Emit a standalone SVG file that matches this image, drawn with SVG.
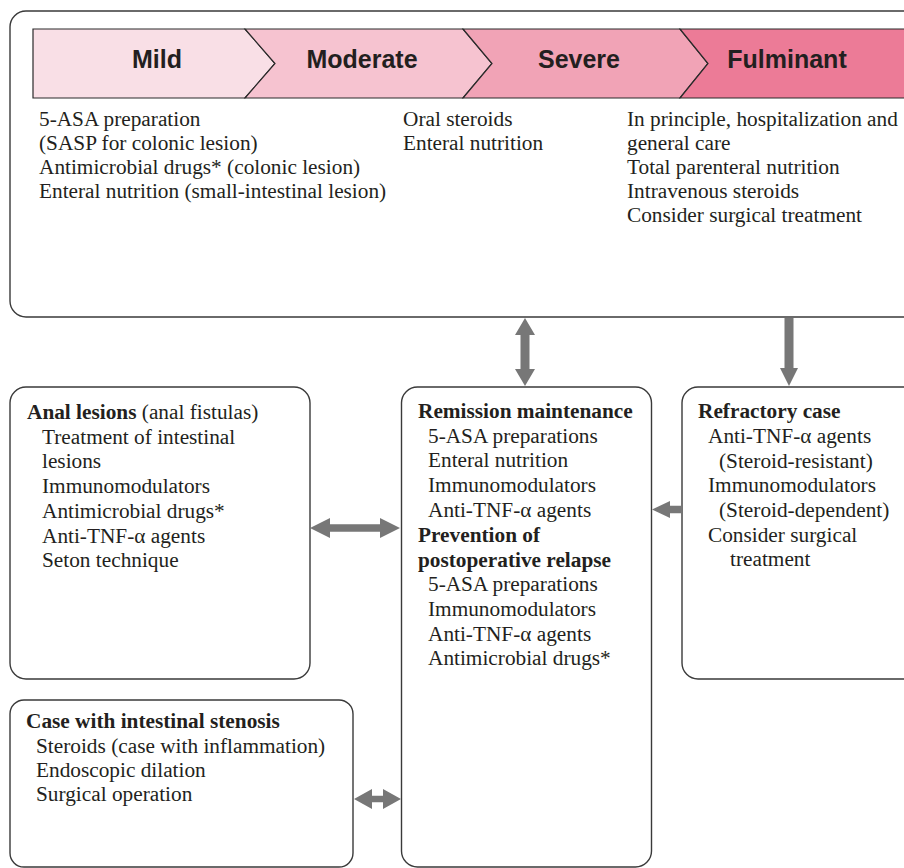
<svg xmlns="http://www.w3.org/2000/svg" width="904" height="868" viewBox="0 0 904 868">
<style>
.box{fill:#fff;stroke:#3a3a3a;stroke-width:1.4}
.t{font-family:"Liberation Serif","Times New Roman",serif;font-size:21.3px;fill:#231f20}
.b{font-weight:bold}
.h{font-family:"Liberation Sans",Arial,sans-serif;font-size:25px;font-weight:bold;fill:#231f20;text-anchor:middle}
.seg{stroke:#2a2a2a;stroke-width:1.2}
.arr{fill:#777777}
</style>
<rect width="904" height="868" fill="#ffffff"/>
<g id="severity">
<rect class="box" x="10" y="11" width="920" height="306" rx="16"/>
<polygon class="seg" fill="#f9dfe6" points="33,29 245,29 275,63.5 245,98 33,98"/>
<polygon class="seg" fill="#f6c3d0" points="245,29 463,29 492,63.5 463,98 245,98 275,63.5"/>
<polygon class="seg" fill="#f1a3b6" points="463,29 680,29 708,63.5 680,98 463,98 492,63.5"/>
<polygon class="seg" fill="#ec7b97" points="680,29 915,29 915,98 680,98 708,63.5"/>
<text class="h" x="157" y="68">Mild</text>
<text class="h" x="362" y="68">Moderate</text>
<text class="h" x="579" y="68">Severe</text>
<text class="h" x="787" y="68">Fulminant</text>
<text class="t" x="39" y="126">5-ASA preparation</text>
<text class="t" x="39" y="150">(SASP for colonic lesion)</text>
<text class="t" x="39" y="174">Antimicrobial drugs* (colonic lesion)</text>
<text class="t" x="39" y="198">Enteral nutrition (small-intestinal lesion)</text>
<text class="t" x="403" y="126">Oral steroids</text>
<text class="t" x="403" y="150">Enteral nutrition</text>
<text class="t" x="627" y="126">In principle, hospitalization and</text>
<text class="t" x="627" y="150">general care</text>
<text class="t" x="627" y="174">Total parenteral nutrition</text>
<text class="t" x="627" y="198">Intravenous steroids</text>
<text class="t" x="627" y="222">Consider surgical treatment</text>
</g>
<g id="anal">
<rect class="box" x="10" y="387" width="300" height="292" rx="16"/>
<text class="t" x="27" y="419"><tspan class="b">Anal lesions</tspan> (anal fistulas)</text>
<text class="t" x="42" y="443.7">Treatment of intestinal</text>
<text class="t" x="42" y="468.4">lesions</text>
<text class="t" x="42" y="493">Immunomodulators</text>
<text class="t" x="42" y="517.8">Antimicrobial drugs*</text>
<text class="t" x="42" y="542.5">Anti-TNF-α agents</text>
<text class="t" x="42" y="567.2">Seton technique</text>
</g>
<g id="remission">
<rect class="box" x="401.5" y="387" width="250" height="480" rx="16"/>
<text class="t b" x="418" y="418">Remission maintenance</text>
<text class="t" x="428" y="442.7">5-ASA preparations</text>
<text class="t" x="428" y="467.4">Enteral nutrition</text>
<text class="t" x="428" y="492">Immunomodulators</text>
<text class="t" x="428" y="517">Anti-TNF-α agents</text>
<text class="t b" x="418" y="541.7">Prevention of</text>
<text class="t b" x="418" y="566.5">postoperative relapse</text>
<text class="t" x="428" y="591">5-ASA preparations</text>
<text class="t" x="428" y="616">Immunomodulators</text>
<text class="t" x="428" y="640.5">Anti-TNF-α agents</text>
<text class="t" x="428" y="665">Antimicrobial drugs*</text>
</g>
<g id="refractory">
<rect class="box" x="682" y="387" width="240" height="292" rx="16"/>
<text class="t b" x="698" y="418">Refractory case</text>
<text class="t" x="708" y="443">Anti-TNF-α agents</text>
<text class="t" x="719" y="467.5">(Steroid-resistant)</text>
<text class="t" x="708" y="492">Immunomodulators</text>
<text class="t" x="719" y="517">(Steroid-dependent)</text>
<text class="t" x="708" y="541.5">Consider surgical</text>
<text class="t" x="730" y="566">treatment</text>
</g>
<g id="stenosis">
<rect class="box" x="10" y="700" width="343" height="167" rx="14"/>
<text class="t b" x="26" y="728">Case with intestinal stenosis</text>
<text class="t" x="36" y="753">Steroids (case with inflammation)</text>
<text class="t" x="36" y="777">Endoscopic dilation</text>
<text class="t" x="36" y="801">Surgical operation</text>
</g>
<g id="connectors">
<path class="arr" d="M525,318 L535,335 L529.5,335 L529.5,369 L535,369 L525,386 L515,369 L520.5,369 L520.5,335 L515,335 Z"/>
<path class="arr" d="M784.5,318 L793.5,318 L793.5,368 L798,368 L789,386 L780,368 L784.5,368 Z"/>
<path class="arr" d="M652,509.5 L670,501 L670,505.8 L682,505.8 L682,513.2 L670,513.2 L670,518 Z"/>
<path class="arr" d="M310,528 L330,518 L330,524.3 L380,524.3 L380,518 L400,528 L380,538 L380,531.7 L330,531.7 L330,538 Z"/>
<path class="arr" d="M354,799 L372,789 L372,795.7 L383,795.7 L383,789 L401,799 L383,809 L383,802.3 L372,802.3 L372,809 Z"/>
</g>
</svg>
